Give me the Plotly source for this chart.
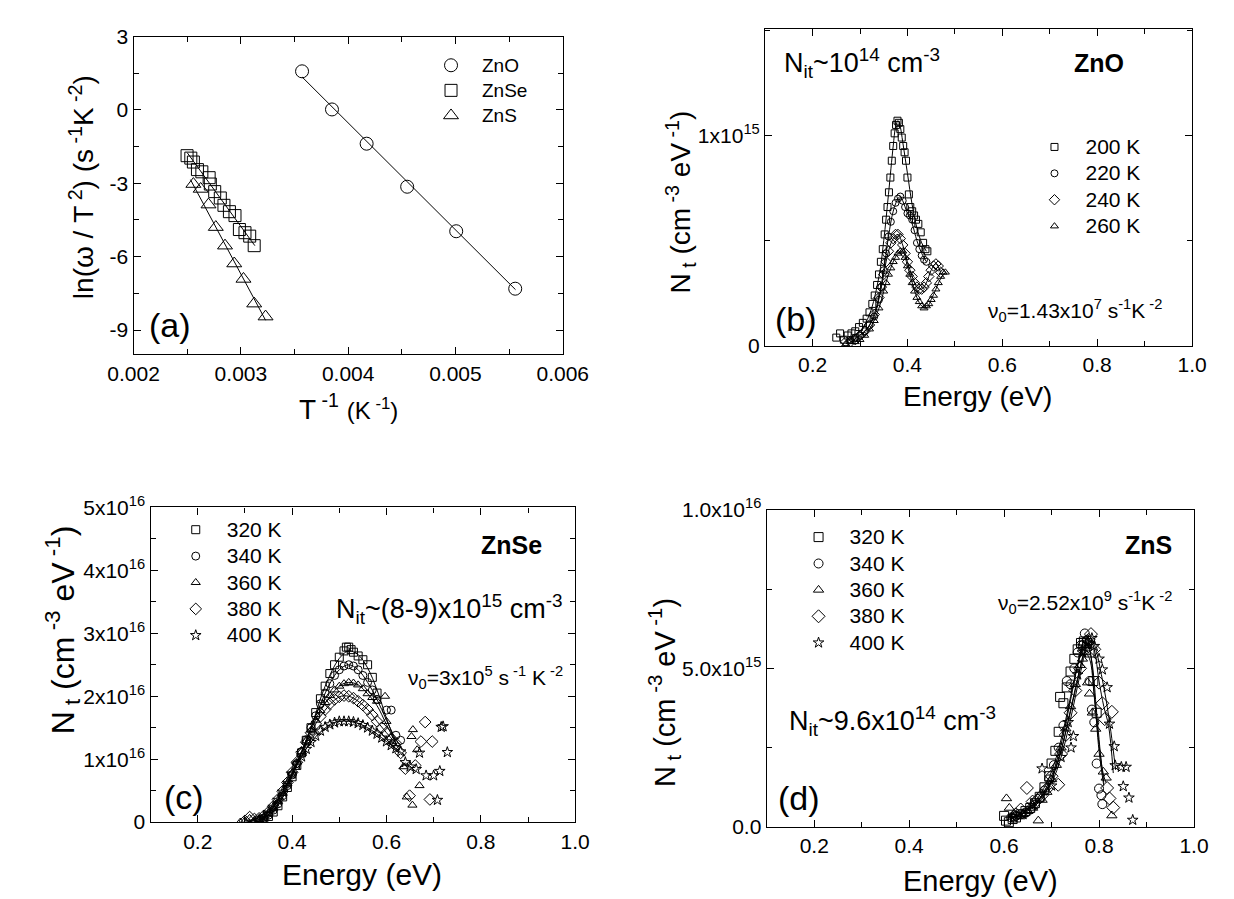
import plotly.graph_objects as go

W, H = 1234, 899
FONT = "Liberation Sans, Arial, sans-serif"
INK = "black"

# ---------------- panel (a): ln(w/T^2) vs 1/T ----------------
a_zno_x = [0.003570, 0.003849, 0.004172, 0.004550, 0.005007, 0.005557]
a_zno_y = [1.58, 0.02, -1.38, -3.14, -4.96, -7.31]
a_znse_x = [0.002498, 0.002533, 0.002557, 0.002595, 0.002636, 0.002704, 0.002715, 0.002756,
            0.002808, 0.002842, 0.002893, 0.002945, 0.002986, 0.003038, 0.003082, 0.003124]
a_znse_y = [-1.87, -1.97, -2.13, -2.44, -2.53, -2.77, -3.03, -3.34,
            -3.60, -3.90, -4.16, -4.32, -4.89, -5.02, -5.16, -5.55]
a_zns_x = [0.002557, 0.002625, 0.002698, 0.002766, 0.002852, 0.002938, 0.003024, 0.003124, 0.003230]
a_zns_y = [-3.03, -3.23, -3.87, -4.79, -5.55, -6.28, -6.91, -7.92, -8.45]
a_zno_fit_x = [0.00357, 0.00556]
a_zno_fit_y = [1.35, -7.35]
a_znse_fit_x = [0.00250, 0.00313]
a_znse_fit_y = [-1.75, -5.55]
a_zns_fit_x = [0.00253, 0.00323]
a_zns_fit_y = [-2.85, -8.60]
a_names = ["ZnO", "ZnSe", "ZnS"]

# ---------------- panel (b): ZnO, N_t in units of 1e15 ----------------
b_names = ["200 K", "220 K", "240 K", "260 K"]
b200_x = [0.250, 0.258, 0.266, 0.274, 0.282, 0.290, 0.298, 0.306, 0.314, 0.320, 0.326, 0.331, 0.336,
          0.340, 0.344, 0.348, 0.352, 0.355, 0.358, 0.361, 0.364, 0.367, 0.370, 0.373, 0.376, 0.379,
          0.382, 0.385, 0.388, 0.391, 0.394, 0.397, 0.400, 0.403, 0.406, 0.410, 0.414, 0.418, 0.423,
          0.428, 0.433, 0.438, 0.442]
b200_y = [0.04, 0.06, 0.03, 0.05, 0.06, 0.07, 0.09, 0.11, 0.13, 0.16, 0.20, 0.24, 0.29,
          0.34, 0.40, 0.46, 0.53, 0.60, 0.66, 0.73, 0.80, 0.88, 0.95, 1.01, 1.05, 1.07,
          1.06, 1.03, 0.99, 0.95, 0.92, 0.88, 0.80, 0.72, 0.66, 0.64, 0.62, 0.60, 0.58,
          0.54, 0.49, 0.46, 0.45]
b220_x = [0.28, 0.29, 0.30, 0.31, 0.32, 0.33, 0.34, 0.345, 0.35, 0.355, 0.36, 0.365, 0.37, 0.375,
          0.38, 0.385, 0.39, 0.395, 0.40, 0.405, 0.41, 0.415, 0.42, 0.425, 0.43, 0.435, 0.44]
b220_y = [0.03, 0.04, 0.05, 0.07, 0.10, 0.14, 0.22, 0.28, 0.36, 0.44, 0.52, 0.59, 0.64, 0.68,
          0.70, 0.71, 0.69, 0.66, 0.63, 0.62, 0.60, 0.55, 0.49, 0.46, 0.43, 0.41, 0.40]
b240_x = [0.27, 0.28, 0.29, 0.30, 0.31, 0.32, 0.33, 0.34, 0.345, 0.35, 0.355, 0.36, 0.365, 0.37,
          0.375, 0.38, 0.385, 0.39, 0.395, 0.40, 0.405, 0.41, 0.415, 0.42, 0.425, 0.43, 0.435,
          0.44, 0.445, 0.45, 0.455, 0.46, 0.465, 0.47]
b240_y = [0.02, 0.02, 0.03, 0.05, 0.07, 0.10, 0.15, 0.23, 0.28, 0.34, 0.40, 0.45, 0.49, 0.51,
          0.53, 0.53, 0.51, 0.48, 0.44, 0.40, 0.36, 0.33, 0.30, 0.28, 0.27, 0.27, 0.28,
          0.30, 0.33, 0.36, 0.38, 0.39, 0.38, 0.35]
b260_x = [0.27, 0.28, 0.29, 0.30, 0.31, 0.32, 0.33, 0.34, 0.35, 0.355, 0.36, 0.365, 0.37, 0.375,
          0.38, 0.385, 0.39, 0.395, 0.40, 0.405, 0.41, 0.415, 0.42, 0.425, 0.43, 0.435, 0.44,
          0.445, 0.45, 0.455, 0.46, 0.465, 0.47, 0.475, 0.48]
b260_y = [0.01, 0.02, 0.02, 0.03, 0.05, 0.08, 0.12, 0.18, 0.26, 0.30, 0.34, 0.37, 0.40, 0.42,
          0.44, 0.45, 0.45, 0.42, 0.38, 0.34, 0.30, 0.26, 0.23, 0.21, 0.19, 0.18, 0.19,
          0.20, 0.22, 0.24, 0.27, 0.30, 0.33, 0.35, 0.35]
b200_fit_x = [0.27, 0.30, 0.32, 0.34, 0.35, 0.36, 0.37, 0.375, 0.38, 0.385, 0.39, 0.40, 0.41, 0.42, 0.43, 0.44]
b200_fit_y = [0.03, 0.07, 0.15, 0.33, 0.50, 0.72, 0.95, 1.04, 1.07, 1.04, 0.97, 0.82, 0.67, 0.56, 0.49, 0.45]
b220_fit_x = [0.29, 0.31, 0.33, 0.35, 0.36, 0.37, 0.38, 0.385, 0.39, 0.40, 0.41, 0.42, 0.43, 0.44]
b220_fit_y = [0.04, 0.07, 0.14, 0.36, 0.52, 0.64, 0.70, 0.71, 0.69, 0.63, 0.58, 0.50, 0.44, 0.40]
b240_fit_x = [0.28, 0.30, 0.32, 0.34, 0.36, 0.37, 0.38, 0.39, 0.40, 0.41, 0.42, 0.43, 0.44, 0.45, 0.46, 0.47]
b240_fit_y = [0.02, 0.05, 0.10, 0.23, 0.45, 0.51, 0.53, 0.48, 0.40, 0.33, 0.28, 0.27, 0.30, 0.36, 0.39, 0.35]
b260_fit_x = [0.28, 0.30, 0.32, 0.34, 0.36, 0.38, 0.39, 0.40, 0.41, 0.42, 0.43, 0.44, 0.45, 0.46, 0.47, 0.48]
b260_fit_y = [0.02, 0.03, 0.08, 0.18, 0.34, 0.44, 0.45, 0.38, 0.30, 0.23, 0.19, 0.18, 0.22, 0.27, 0.32, 0.35]
B_UNIT = 1e15

# ---------------- panel (c): ZnSe, N_t in units of 1e16 ----------------
c_names = ["320 K", "340 K", "360 K", "380 K", "400 K"]
c320_x = [0.33, 0.34, 0.35, 0.36, 0.37, 0.38, 0.39, 0.40, 0.41, 0.42, 0.43, 0.44, 0.45, 0.46,
          0.47, 0.48, 0.49, 0.50, 0.51, 0.515, 0.52, 0.525, 0.53, 0.54, 0.55, 0.56, 0.57, 0.58]
c320_y = [0.02, 0.05, 0.09, 0.16, 0.26, 0.40, 0.55, 0.72, 0.90, 1.10, 1.30, 1.50, 1.74, 1.96,
          2.16, 2.36, 2.50, 2.62, 2.72, 2.78, 2.78, 2.74, 2.70, 2.64, 2.58, 2.50, 2.30, 2.05]
c340_x = [0.33, 0.34, 0.35, 0.36, 0.37, 0.38, 0.39, 0.40, 0.41, 0.42, 0.43, 0.44, 0.45, 0.46, 0.47,
          0.48, 0.49, 0.50, 0.51, 0.52, 0.53, 0.54, 0.55, 0.56, 0.57, 0.58, 0.60, 0.61, 0.62, 0.63]
c340_y = [0.03, 0.06, 0.11, 0.19, 0.29, 0.42, 0.58, 0.75, 0.93, 1.12, 1.31, 1.50, 1.69, 1.88, 2.05,
          2.20, 2.33, 2.42, 2.48, 2.50, 2.48, 2.42, 2.33, 2.22, 2.10, 1.95, 1.78, 1.78, 1.38, 1.30]
c360_x = [0.29, 0.30, 0.31, 0.32, 0.33, 0.34, 0.35, 0.36, 0.37, 0.38, 0.39, 0.40, 0.41, 0.42, 0.43,
          0.44, 0.45, 0.46, 0.47, 0.48, 0.49, 0.50, 0.51, 0.52, 0.53, 0.54, 0.55, 0.56, 0.57, 0.58,
          0.597, 0.60, 0.62, 0.636, 0.643, 0.653, 0.655, 0.656, 0.665, 0.670]
c360_y = [0.00, 0.02, 0.06, 0.03, 0.04, 0.08, 0.14, 0.22, 0.33, 0.46, 0.61, 0.78, 0.95, 1.12, 1.29,
          1.46, 1.62, 1.77, 1.90, 2.01, 2.10, 2.16, 2.20, 2.22, 2.21, 2.18, 2.12, 2.04, 1.98, 1.92,
          2.00, 1.60, 1.25, 0.88, 0.40, 1.36, 0.27, 1.47, 1.15, 0.58]
c380_x = [0.30, 0.31, 0.32, 0.33, 0.34, 0.35, 0.36, 0.37, 0.38, 0.39, 0.40, 0.41, 0.42, 0.43, 0.44,
          0.45, 0.46, 0.47, 0.48, 0.49, 0.50, 0.51, 0.52, 0.53, 0.54, 0.55, 0.56, 0.57, 0.58, 0.59,
          0.60, 0.61, 0.62, 0.63, 0.64, 0.649, 0.661, 0.673, 0.682, 0.692, 0.697]
c380_y = [0.02, 0.08, 0.05, 0.06, 0.10, 0.16, 0.25, 0.36, 0.49, 0.63, 0.79, 0.95, 1.11, 1.27, 1.42,
          1.56, 1.68, 1.79, 1.88, 1.95, 1.99, 2.01, 2.00, 1.97, 1.92, 1.86, 1.79, 1.70, 1.60, 1.50,
          1.42, 1.33, 1.25, 1.10, 0.85, 0.42, 0.90, 1.28, 1.59, 0.36, 1.28]
c400_x = [0.33, 0.34, 0.35, 0.36, 0.37, 0.38, 0.39, 0.40, 0.41, 0.42, 0.43, 0.44, 0.45, 0.46, 0.47,
          0.48, 0.49, 0.50, 0.51, 0.52, 0.53, 0.54, 0.55, 0.56, 0.57, 0.58, 0.59, 0.60, 0.61, 0.62,
          0.63, 0.64, 0.65, 0.663, 0.67, 0.684, 0.70, 0.708, 0.713, 0.716, 0.72, 0.729]
c400_y = [0.03, 0.08, 0.15, 0.24, 0.35, 0.48, 0.62, 0.77, 0.91, 1.04, 1.16, 1.27, 1.37, 1.45, 1.51,
          1.55, 1.58, 1.60, 1.60, 1.60, 1.59, 1.57, 1.54, 1.50, 1.45, 1.40, 1.34, 1.28, 1.22, 1.17,
          1.12, 0.95, 0.88, 0.84, 1.10, 0.74, 0.74, 0.35, 0.81, 1.51, 1.52, 1.11]
c320_fit_x = [0.33, 0.36, 0.40, 0.44, 0.47, 0.50, 0.52, 0.54, 0.56, 0.58, 0.60, 0.62]
c320_fit_y = [0.02, 0.16, 0.72, 1.50, 2.16, 2.60, 2.72, 2.66, 2.45, 2.10, 1.65, 1.25]
c340_fit_x = [0.33, 0.36, 0.40, 0.44, 0.48, 0.50, 0.52, 0.54, 0.56, 0.58, 0.60, 0.62]
c340_fit_y = [0.03, 0.19, 0.75, 1.50, 2.20, 2.42, 2.50, 2.42, 2.22, 1.95, 1.62, 1.30]
c360_fit_x = [0.30, 0.34, 0.38, 0.42, 0.46, 0.50, 0.52, 0.54, 0.56, 0.58, 0.60, 0.62]
c360_fit_y = [0.00, 0.08, 0.46, 1.12, 1.77, 2.16, 2.22, 2.18, 2.04, 1.85, 1.55, 1.25]
c380_fit_x = [0.31, 0.34, 0.38, 0.42, 0.46, 0.50, 0.52, 0.54, 0.56, 0.58, 0.60, 0.62]
c380_fit_y = [0.03, 0.10, 0.49, 1.11, 1.68, 1.99, 2.00, 1.92, 1.79, 1.60, 1.42, 1.25]
c400_fit_x = [0.33, 0.36, 0.40, 0.44, 0.48, 0.50, 0.52, 0.54, 0.56, 0.58, 0.60, 0.62, 0.64]
c400_fit_y = [0.03, 0.24, 0.77, 1.27, 1.55, 1.60, 1.60, 1.57, 1.50, 1.40, 1.28, 1.17, 1.05]
C_UNIT = 1e16

# ---------------- panel (d): ZnS, N_t in units of 1e15 ----------------
d_names = ["320 K", "340 K", "360 K", "380 K", "400 K"]
d320_x = [0.600, 0.604, 0.610, 0.618, 0.625, 0.635, 0.645, 0.655, 0.665, 0.675, 0.685, 0.695, 0.700,
          0.708, 0.715, 0.718, 0.725, 0.732, 0.740, 0.748, 0.755, 0.762, 0.768, 0.775, 0.780, 0.788, 0.795]
d320_y = [0.35, 0.20, 0.15, 0.25, 0.30, 0.40, 0.50, 0.60, 0.75, 0.95, 1.25, 1.60, 2.00,
          2.40, 3.00, 4.10, 3.90, 4.40, 4.90, 5.30, 5.60, 5.80, 5.85, 5.80, 5.50, 4.60, 3.60]
d340_x = [0.615, 0.625, 0.635, 0.645, 0.655, 0.665, 0.675, 0.685, 0.695, 0.705, 0.715, 0.725, 0.732,
          0.740, 0.748, 0.755, 0.762, 0.766, 0.770, 0.775, 0.780, 0.785, 0.790, 0.795, 0.800, 0.805, 0.807]
d340_y = [0.30, 0.35, 0.40, 0.45, 0.55, 0.70, 0.90, 1.15, 1.50, 1.95, 2.50, 3.20, 4.60,
          4.50, 5.00, 5.50, 5.73, 5.73, 6.10, 5.90, 4.60, 3.70, 3.30, 2.00, 1.21, 1.00, 0.72]
d360_x = [0.605, 0.611, 0.620, 0.630, 0.640, 0.650, 0.660, 0.672, 0.680, 0.690, 0.700, 0.710, 0.720,
          0.730, 0.740, 0.750, 0.760, 0.765, 0.770, 0.776, 0.780, 0.786, 0.793, 0.800, 0.809, 0.815, 0.827]
d360_y = [0.90, 0.60, 0.40, 0.35, 0.40, 0.50, 0.60, 0.20, 0.85, 1.10, 1.50, 1.95, 2.50,
          3.10, 3.80, 4.50, 5.10, 5.30, 5.50, 4.55, 4.20, 3.60, 3.09, 2.30, 1.74, 1.55, 0.36]
d380_x = [0.625, 0.635, 0.648, 0.660, 0.670, 0.680, 0.690, 0.700, 0.714, 0.720, 0.730, 0.740, 0.750,
          0.760, 0.770, 0.778, 0.783, 0.790, 0.800, 0.807, 0.812, 0.817, 0.822, 0.827, 0.830]
d380_y = [0.40, 0.55, 1.23, 0.80, 0.85, 1.00, 1.20, 1.60, 1.33, 2.30, 2.90, 3.60, 4.30,
          5.00, 5.60, 5.90, 6.08, 5.60, 4.55, 3.90, 3.40, 1.23, 0.90, 3.63, 0.61]
d400_x = [0.620, 0.640, 0.660, 0.680, 0.700, 0.720, 0.735, 0.741, 0.746, 0.755, 0.765, 0.775, 0.785,
          0.790, 0.800, 0.807, 0.817, 0.822, 0.832, 0.834, 0.847, 0.851, 0.857, 0.863, 0.871]
d400_y = [0.30, 0.40, 0.70, 1.84, 1.30, 2.20, 3.30, 2.50, 2.86, 4.80, 5.50, 5.80, 5.95,
          5.70, 5.30, 4.96, 4.40, 3.25, 2.54, 1.94, 1.89, 1.28, 1.89, 0.92, 0.22]
d320_fit_x = [0.60, 0.63, 0.66, 0.69, 0.71, 0.73, 0.75, 0.765, 0.775, 0.785, 0.795, 0.805, 0.81]
d320_fit_y = [0.20, 0.35, 0.70, 1.40, 2.20, 3.40, 4.80, 5.60, 5.80, 5.20, 3.60, 2.00, 1.40]
d340_fit_x = [0.61, 0.64, 0.67, 0.70, 0.72, 0.74, 0.755, 0.77, 0.78, 0.79, 0.80, 0.81]
d340_fit_y = [0.30, 0.45, 0.80, 1.60, 2.60, 4.00, 5.10, 5.90, 5.60, 4.20, 2.40, 1.30]
d360_fit_x = [0.62, 0.65, 0.68, 0.70, 0.72, 0.74, 0.76, 0.77, 0.78, 0.79, 0.80, 0.81, 0.815]
d360_fit_y = [0.30, 0.50, 0.90, 1.50, 2.40, 3.70, 5.00, 5.50, 5.30, 4.10, 2.60, 1.60, 1.40]
d380_fit_x = [0.63, 0.66, 0.69, 0.71, 0.73, 0.75, 0.77, 0.78, 0.79, 0.80, 0.81, 0.82, 0.83]
d380_fit_y = [0.40, 0.70, 1.20, 1.90, 3.00, 4.30, 5.60, 6.00, 5.60, 4.60, 3.80, 3.20, 1.70]
d400_fit_x = [0.64, 0.67, 0.70, 0.72, 0.74, 0.76, 0.775, 0.785, 0.795, 0.805, 0.815, 0.825, 0.835]
d400_fit_y = [0.50, 0.80, 1.40, 2.20, 3.40, 4.80, 5.70, 5.90, 5.50, 4.80, 4.00, 3.00, 1.80]
D_UNIT = 1e15

# tick labels
a_xticks = [0.002, 0.003, 0.004, 0.005, 0.006]
a_xtext = ["0.002", "0.003", "0.004", "0.005", "0.006"]
a_yticks = [3, 0, -3, -6, -9]
a_ytext = ["3", "0", "-3", "-6", "-9"]
e_ticks = [0.2, 0.4, 0.6, 0.8, 1.0]
e_text = ["0.2", "0.4", "0.6", "0.8", "1.0"]
b_yticks = [0, 1e15]
b_ytext = ["0", "1x10<sup>15</sup>"]
c_yticks = [0, 1e16, 2e16, 3e16, 4e16, 5e16]
c_ytext = ["0", "1x10<sup>16</sup>", "2x10<sup>16</sup>", "3x10<sup>16</sup>", "4x10<sup>16</sup>", "5x10<sup>16</sup>"]
d_yticks = [0, 5e15, 1e16]
d_ytext = ["0.0", "5.0x10<sup>15</sup>", "1.0x10<sup>16</sup>"]

# ---------------- figure ----------------
fig = go.Figure()


def px_x(X):
    return X / W


def px_y(Y):
    return 1 - Y / H


def add_series(x, y, name, symbol, size, xa, ya, legend, scale=1.0, txt=21):
    fig.add_trace(go.Scatter(
        x=x, y=[v * scale for v in y], mode="markers",
        name="<span style='font-size:%dpx'>%s</span>" % (txt, name),
        marker=dict(symbol=symbol, size=size, color=INK, line=dict(width=1, color=INK)),
        xaxis=xa, yaxis=ya, legend=legend, showlegend=True))


def add_fit(x, y, xa, ya, scale=1.0, shape="spline"):
    fig.add_trace(go.Scatter(
        x=x, y=[v * scale for v in y], mode="lines", line=dict(color=INK, width=1, shape=shape),
        xaxis=xa, yaxis=ya, showlegend=False, hoverinfo="skip"))


# (a)
add_fit(a_zno_fit_x, a_zno_fit_y, "x", "y", shape="linear")
add_fit(a_znse_fit_x, a_znse_fit_y, "x", "y", shape="linear")
add_fit(a_zns_fit_x, a_zns_fit_y, "x", "y", shape="linear")
add_series(a_zno_x, a_zno_y, a_names[0], "circle-open", 13, "x", "y", "legend", txt=19)
add_series(a_znse_x, a_znse_y, a_names[1], "square-open", 12, "x", "y", "legend", txt=19)
add_series(a_zns_x, a_zns_y, a_names[2], "triangle-up-open", 13, "x", "y", "legend", txt=19)

# (b)
for fx, fy in [(b200_fit_x, b200_fit_y), (b220_fit_x, b220_fit_y), (b240_fit_x, b240_fit_y), (b260_fit_x, b260_fit_y)]:
    add_fit(fx, fy, "x2", "y2", B_UNIT)
add_series(b200_x, b200_y, b_names[0], "square-open", 7, "x2", "y2", "legend2", B_UNIT)
add_series(b220_x, b220_y, b_names[1], "circle-open", 7, "x2", "y2", "legend2", B_UNIT)
add_series(b240_x, b240_y, b_names[2], "diamond-open", 8, "x2", "y2", "legend2", B_UNIT)
add_series(b260_x, b260_y, b_names[3], "triangle-up-open", 7, "x2", "y2", "legend2", B_UNIT)

# (c)
for fx, fy in [(c320_fit_x, c320_fit_y), (c340_fit_x, c340_fit_y), (c360_fit_x, c360_fit_y),
               (c380_fit_x, c380_fit_y), (c400_fit_x, c400_fit_y)]:
    add_fit(fx, fy, "x3", "y3", C_UNIT)
add_series(c320_x, c320_y, c_names[0], "square-open", 8, "x3", "y3", "legend3", C_UNIT)
add_series(c340_x, c340_y, c_names[1], "circle-open", 8, "x3", "y3", "legend3", C_UNIT)
add_series(c360_x, c360_y, c_names[2], "triangle-up-open", 8, "x3", "y3", "legend3", C_UNIT)
add_series(c380_x, c380_y, c_names[3], "diamond-open", 9, "x3", "y3", "legend3", C_UNIT)
add_series(c400_x, c400_y, c_names[4], "star-open", 8, "x3", "y3", "legend3", C_UNIT)

# (d)
for fx, fy in [(d320_fit_x, d320_fit_y), (d340_fit_x, d340_fit_y), (d360_fit_x, d360_fit_y),
               (d380_fit_x, d380_fit_y), (d400_fit_x, d400_fit_y)]:
    add_fit(fx, fy, "x4", "y4", D_UNIT)
add_series(d320_x, d320_y, d_names[0], "square-open", 9, "x4", "y4", "legend4", D_UNIT)
add_series(d340_x, d340_y, d_names[1], "circle-open", 9, "x4", "y4", "legend4", D_UNIT)
add_series(d360_x, d360_y, d_names[2], "triangle-up-open", 9, "x4", "y4", "legend4", D_UNIT)
add_series(d380_x, d380_y, d_names[3], "diamond-open", 10, "x4", "y4", "legend4", D_UNIT)
add_series(d400_x, d400_y, d_names[4], "star-open", 8, "x4", "y4", "legend4", D_UNIT)

TICKFONT = dict(family=FONT, size=21, color=INK)


def ax(domain, rng, tickvals, ticktext, minor_vals, anchor):
    return dict(domain=domain, range=rng, tickmode="array", tickvals=tickvals, ticktext=ticktext,
                showline=True, linecolor=INK, linewidth=1.4, mirror="ticks",
                ticks="inside", ticklen=7, tickwidth=1.3, tickcolor=INK,
                showgrid=False, zeroline=False, tickfont=TICKFONT, anchor=anchor,
                minor=dict(tickmode="array", tickvals=minor_vals, ticks="inside", ticklen=5,
                           tickwidth=1.3, tickcolor=INK, showgrid=False))


# pixel frames of the four panels (left, right, top, bottom)
A = (104, 552, 15, 342)
B = (763.3, 1209, 7.3, 333.3)
C = (121.7, 565, 499.3, 823)
D = (765, 1211, 501.7, 828)


def dom_x(P):
    return [P[0] / W, P[1] / W]


def dom_y(P):
    return [1 - P[3] / H, 1 - P[2] / H]


e_minor = [0.1, 0.3, 0.5, 0.7, 0.9]
fig.update_layout(
    xaxis=ax(dom_x(A), [0.002, 0.006], a_xticks, a_xtext, [0.0025, 0.0035, 0.0045, 0.0055], "y"),
    yaxis=ax(dom_y(A), [-10, 3], a_yticks, a_ytext, [1.5, -1.5, -4.5, -7.5], "x"),
    xaxis2=ax(dom_x(B), [0.1, 1.0], e_ticks, e_text, e_minor, "y2"),
    yaxis2=ax(dom_y(B), [0, 1.505e15], b_yticks, b_ytext, [0.5e15, 1.5e15], "x2"),
    xaxis3=ax(dom_x(C), [0.1, 1.0], e_ticks, e_text, e_minor, "y3"),
    yaxis3=ax(dom_y(C), [0, 5e16], c_yticks, c_ytext, [0.5e16, 1.5e16, 2.5e16, 3.5e16, 4.5e16], "x3"),
    xaxis4=ax(dom_x(D), [0.1, 1.0], e_ticks, e_text, e_minor, "y4"),
    yaxis4=ax(dom_y(D), [0, 1e16], d_yticks, d_ytext, [2.5e15, 7.5e15], "x4"),
)


def leg(Xm, Ym, size):
    item_h = 1.3 * size + 3
    return dict(x=px_x(Xm - 31), y=px_y(Ym - 5 - item_h / 2), xanchor="left", yanchor="top",
                bgcolor="rgba(0,0,0,0)", borderwidth=0, itemwidth=52,
                font=dict(family=FONT, size=size, color=INK))


fig.update_layout(
    legend=leg(434, 44, 17),
    legend2=leg(1064, 128, 18),
    legend3=leg(167.5, 521.7, 18),
    legend4=leg(817.7, 529.3, 18),
)

ann = []


def text(X, Y, s, size, angle=0, bold=False, xanchor="center"):
    ann.append(dict(x=px_x(X), y=px_y(Y), xref="paper", yref="paper", text=("<b>%s</b>" % s) if bold else s,
                    showarrow=False, textangle=angle, xanchor=xanchor, yanchor="middle",
                    font=dict(family=FONT, size=size, color=INK)))


YT = "N<sub> t</sub> (cm<sup> -3</sup> eV<sup> -1</sup>)"
# (a)
text(50, 170, "ln(\u03c9 / T<sup> 2</sup>) (s<sup> -1</sup>K<sup> -2</sup>)", 28, angle=-90)
text(328, 396, "T<sup> -1</sup> <span style='font-size:24px'>(K<sup> -1</sup>)</span>", 28)
text(142, 312, "(a)", 34)
# (b)
text(675, 185, YT, 28, angle=-90)
text(985, 385, "Energy (eV)", 28)
text(781, 42, "N<sub>it</sub>~10<sup>14</sup> cm<sup>-3</sup>", 27, xanchor="left")
text(1112, 42, "ZnO", 25, bold=True)
text(994, 297, "\u03bd<sub>0</sub>=1.43x10<sup>7</sup> s<sup>-1</sup>K<sup> -2</sup>", 21, xanchor="left")
text(796, 305, "(b)", 34)
# (c)
text(30, 625, YT, 32, angle=-90)
text(342, 877, "Energy (eV)", 30)
text(498, 538, "ZnSe", 25, bold=True)
text(313, 604, "N<sub>it</sub>~(8-9)x10<sup>15</sup> cm<sup>-3</sup>", 27, xanchor="left")
text(388, 674, "\u03bd<sub>0</sub>=3x10<sup>5</sup> s<sup> -1</sup> K<sup> -2</sup>", 21, xanchor="left")
text(157, 797, "(c)", 34)
# (d)
text(658, 690, YT, 29, angle=-90)
text(988, 884, "Energy (eV)", 29)
text(1164, 538, "ZnS", 25, bold=True)
text(1004, 597, "\u03bd<sub>0</sub>=2.52x10<sup>9</sup> s<sup>-1</sup>K<sup> -2</sup>", 21, xanchor="left")
text(786, 719, "N<sub>it</sub>~9.6x10<sup>14</sup> cm<sup>-3</sup>", 27, xanchor="left")
text(799, 798, "(d)", 34)

fig.update_layout(
    annotations=ann,
    width=W, height=H, autosize=False,
    margin=dict(l=0, r=0, t=0, b=0),
    paper_bgcolor="white", plot_bgcolor="white",
    font=dict(family=FONT, color=INK),
)

fig.write_html("out.html")
